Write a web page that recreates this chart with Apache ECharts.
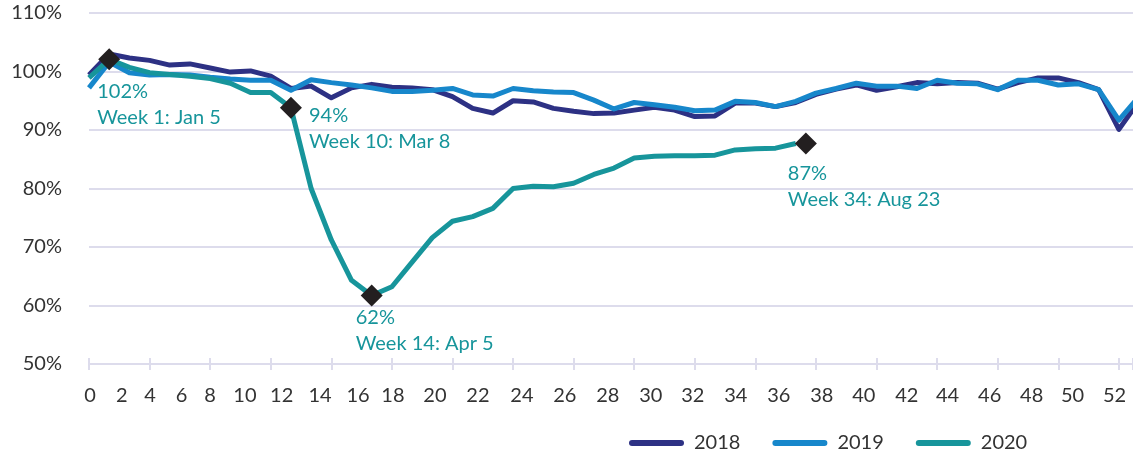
<!DOCTYPE html>
<html>
<head>
<meta charset="utf-8">
<script src="https://cdn.jsdelivr.net/npm/echarts@6/dist/echarts.min.js"></script>
<style>
  html, body { margin: 0; padding: 0; background: #fff; }
  #chart { width: 1133px; height: 453px; }
</style>
</head>
<body>
<div id="chart"></div>
<script>
// week index of every weekly point
const weeks = [0, 1, 2, 3, 4, 5, 6, 7, 8, 9, 10, 11, 12, 13, 14, 15, 16, 17, 18, 19, 20,
  21, 22, 23, 24, 25, 26, 27, 28, 29, 30, 31, 32, 33, 34, 35, 36, 37, 38, 39, 40,
  41, 42, 43, 44, 45, 46, 47, 48, 49, 50, 51, 52];

const y2018 = [99.4, 103.0, 102.3, 101.9, 101.1, 101.3, 100.6, 99.9, 100.1, 99.2, 97.1,
  97.5, 95.5, 97.2, 97.8, 97.3, 97.2, 96.9, 95.7, 93.7, 92.9, 95.0, 94.8, 93.7, 93.2,
  92.8, 92.9, 93.4, 93.9, 93.4, 92.3, 92.4, 94.6, 94.6, 94.0, 94.7, 96.1, 97.0, 97.7,
  96.8, 97.4, 98.1, 97.9, 98.1, 98.0, 97.0, 98.1, 98.9, 98.9, 98.1, 96.9, 90.1, 95.0];

const y2019 = [97.2, 101.6, 99.8, 99.4, 99.5, 99.4, 99.0, 98.7, 98.5, 98.5, 96.8,
  98.6, 98.1, 97.7, 97.2, 96.6, 96.6, 96.8, 97.1, 96.0, 95.8, 97.1, 96.7, 96.5, 96.4,
  95.1, 93.6, 94.7, 94.3, 93.9, 93.3, 93.4, 94.9, 94.7, 94.0, 94.9, 96.3, 97.1, 98.0,
  97.5, 97.5, 97.1, 98.5, 98.0, 97.9, 96.9, 98.5, 98.5, 97.7, 97.9, 96.9, 91.7, 95.7];

const y2020 = [98.9, 102.1, 100.7, 99.8, 99.5, 99.2, 98.8, 98.0, 96.4, 96.4, 93.8,
  80.0, 71.2, 64.3, 61.7, 63.2, 67.4, 71.6, 74.4, 75.2, 76.6, 80.0, 80.4, 80.3, 80.9,
  82.4, 83.5, 85.2, 85.5, 85.6, 85.6, 85.7, 86.6, 86.8, 86.9, 87.7];

// x axis labels as printed, and where they sit on the week scale
const xLabels = ['0', '2', '4', '6', '8', '10', '12', '14', '16', '18', '20', '22', '24',
  '26', '28', '30', '32', '34', '36', '38', '40', '42', '44', '46', '48', '50', '52'];
const xLabelAt = [0.05, 1.62, 3.02, 4.58, 5.99, 7.72, 9.54, 11.44, 13.32, 15.05, 17.13,
  19.26, 21.44, 23.56, 25.69, 27.82, 29.9, 32.03, 34.16, 36.29, 38.37, 40.5, 42.52,
  44.6, 46.68, 48.71, 50.79];

// annotated 2020 points
const annWeek = [1, 10, 14, 35.5];
const annValue = [102.1, 93.8, 61.7, 87.7];
const annPct = ['102%', '94%', '62%', '87%'];
const annText = ['Week 1: Jan 5', 'Week 10: Mar 8', 'Week 14: Apr 5', 'Week 34: Aug 23'];

const FONT = 'Lato';
const TEXT = '#333333';
const GRID = '#dddcec';
const colors = ['#2d3184', '#1787cb', '#17959b'];
const annOffset = [[-1, 30], [29, 6], [-5, 20], [-7, 28]];

const chart = echarts.init(document.getElementById('chart'));

const pairs = (ys) => ys.map((v, i) => [weeks[i], v]);

const option = {
  animation: false,
  color: colors,
  grid: { left: 89, right: 0, top: 13, bottom: 89 },
  legend: {
    data: ['2018', '2019', '2020'],
    left: 624,
    top: 428,
    itemWidth: 55,
    itemHeight: 6,
    itemGap: 32,
    icon: 'path://M3,0 H52 A3,3 0 0 1 52,6 H3 A3,3 0 0 1 3,0 Z',
    textStyle: { fontFamily: FONT, fontSize: 20, color: TEXT, padding: [0, 0, 0, 5] }
  },
  xAxis: [
    {
      type: 'value',
      min: 0,
      max: 51.7,
      interval: 3,
      axisLine: { lineStyle: { color: GRID, width: 2 } },
      axisTick: { show: true, length: 6, lineStyle: { color: GRID, width: 2 } },
      splitLine: { show: false },
      axisLabel: {
        customValues: xLabelAt,
        formatter: (v) => xLabels[xLabelAt.indexOf(v)],
        margin: 22,
        fontFamily: FONT,
        fontSize: 20,
        color: TEXT
      }
    },
    {
      // ticks crossing the axis line
      type: 'value',
      position: 'bottom',
      min: 0,
      max: 51.7,
      interval: 3,
      axisLine: { show: false },
      axisTick: { show: true, inside: true, length: 6, lineStyle: { color: GRID, width: 2 } },
      axisLabel: { show: false },
      splitLine: { show: false }
    }
  ],
  yAxis: {
    type: 'value',
    min: 50,
    max: 110,
    interval: 10,
    axisLine: { show: false },
    axisTick: { show: false },
    splitLine: { lineStyle: { color: GRID, width: 2 } },
    axisLabel: {
      formatter: '{value}%',
      margin: 27,
      fontFamily: FONT,
      fontSize: 20,
      color: TEXT
    }
  },
  series: [
    {
      name: '2018',
      type: 'line',
      data: pairs(y2018),
      showSymbol: false,
      lineStyle: { width: 5, join: 'round' },
      z: 2
    },
    {
      name: '2019',
      type: 'line',
      data: pairs(y2019),
      showSymbol: false,
      lineStyle: { width: 5, join: 'round' },
      z: 3
    },
    {
      name: '2020',
      type: 'line',
      data: pairs(y2020),
      showSymbol: false,
      lineStyle: { width: 5, join: 'round' },
      z: 4,
      markPoint: {
        symbol: 'diamond',
        symbolSize: 22,
        itemStyle: { color: '#231f20' },
        z: 10,
        data: annWeek.map((w, i) => ({
          coord: [w, annValue[i]],
          label: {
            show: true,
            formatter: annPct[i] + '\n' + annText[i],
            position: annOffset[i],
            align: 'left',
            verticalAlign: 'top',
            color: colors[2],
            fontFamily: FONT,
            fontSize: 20,
            lineHeight: 26
          }
        }))
      }
    }
  ]
};

chart.setOption(option);
window.addEventListener('resize', () => chart.resize());
</script>
</body>
</html>
